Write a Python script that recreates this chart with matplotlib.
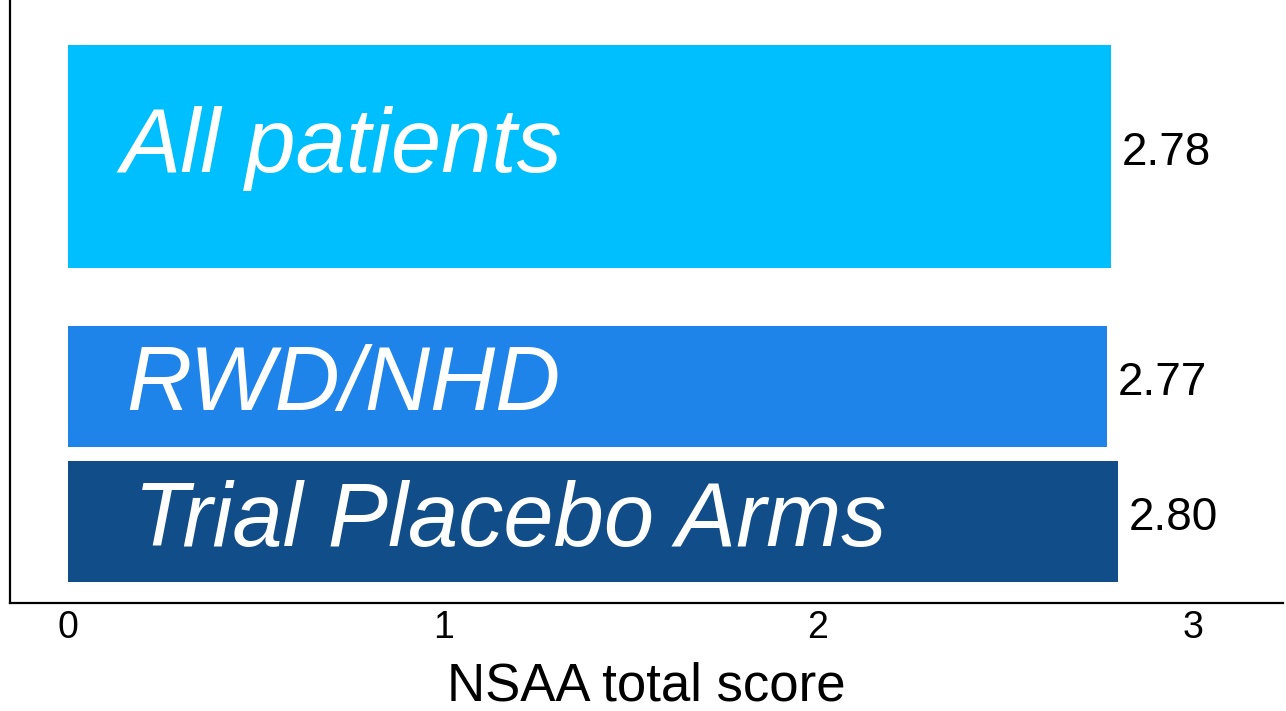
import matplotlib.pyplot as plt

# Mean NSAA total score by cohort
groups = ['All patients', 'RWD/NHD', 'Trial Placebo Arms']
scores = [2.78, 2.77, 2.80]
value_labels = ['2.78', '2.77', '2.80']

# Layout (axis units, y measured upward from the x-axis)
bar_centers = [4.465, 2.165, 0.815]
bar_heights = [2.23, 1.21, 1.21]
name_x = [0.14, 0.155, 0.175]
name_baseline = [4.31, 1.93, 0.57]
colors = ['#00BFFF', '#1E84EA', '#114E89']

plt.rcParams['font.family'] = ['Liberation Sans', 'DejaVu Sans']

fig = plt.figure(figsize=(12.86, 7.11), dpi=100)
ax = fig.add_axes([10 / 1286, 108 / 711, 1273 / 1286, 603 / 711])

ax.barh(bar_centers, scores, height=bar_heights, color=colors, edgecolor='none')

for i, name in enumerate(groups):
    ax.text(name_x[i], name_baseline[i], name, color='white', style='italic',
            fontsize=65, ha='left', va='baseline')
    ax.annotate(value_labels[i], xy=(scores[i], bar_centers[i] + 0.035),
                xytext=(11, 0), textcoords='offset pixels',
                ha='left', va='center', fontsize=33, color='black')

ax.set_xlim(-0.155, 3.24)
ax.set_ylim(0, 6.03)
ax.set_xticks([0, 1, 2, 3])
ax.set_xticklabels(['0', '1', '2', '3'], fontsize=27)
ax.tick_params(axis='x', length=0, pad=5)
ax.set_yticks([])
ax.set_xlabel('NSAA total score', fontsize=38, labelpad=11)

ax.spines['top'].set_visible(False)
ax.spines['right'].set_visible(False)
ax.spines['left'].set_linewidth(1.6)
ax.spines['bottom'].set_linewidth(1.6)

fig.savefig('out.png', dpi=100)
